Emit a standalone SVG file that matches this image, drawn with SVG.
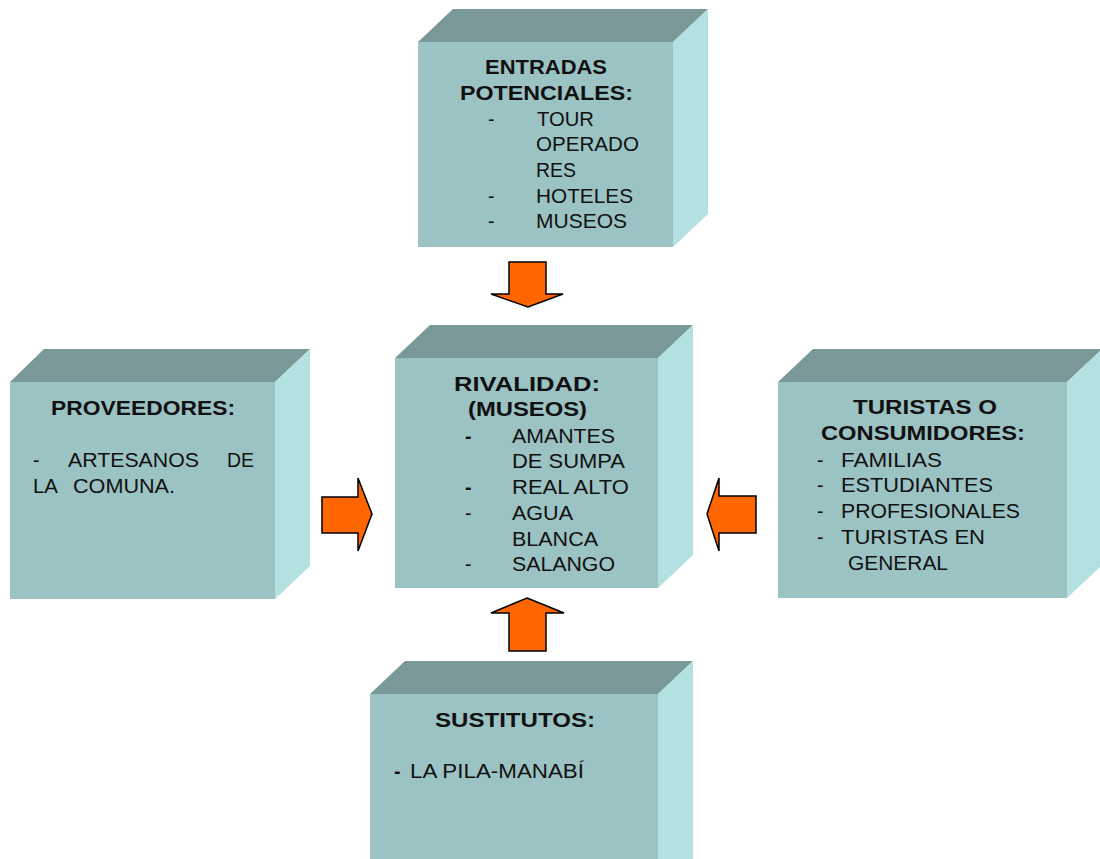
<svg xmlns="http://www.w3.org/2000/svg" width="1100" height="859" viewBox="0 0 1100 859">
<style>
.front{fill:#9cc3c3;}
.top{fill:#7a9897;}
.side{fill:#b3e0e1;}
text{font-family:"Liberation Sans",Arial,sans-serif;font-size:19.5px;fill:#111;}
.b{font-weight:bold;}
.arrow{fill:#ff6600;stroke:#000;stroke-width:1.5;stroke-linejoin:miter;}
</style>
<rect width="1100" height="859" fill="#fff"/>

<g id="entradas">
<polygon class="top" points="418,42 453,9 708,9 673,42"/>
<polygon class="side" points="673,42 708,9 708,214 673,247"/>
<rect class="front" x="418" y="42" width="255" height="205"/>
<text class="b" x="485" y="74" textLength="122" lengthAdjust="spacingAndGlyphs">ENTRADAS</text>
<text class="b" x="460" y="100" textLength="173" lengthAdjust="spacingAndGlyphs">POTENCIALES:</text>
<text x="488" y="126">-</text>
<text x="537" y="126" textLength="57" lengthAdjust="spacingAndGlyphs">TOUR</text>
<text x="536" y="151" textLength="103" lengthAdjust="spacingAndGlyphs">OPERADO</text>
<text x="536" y="177" textLength="40" lengthAdjust="spacingAndGlyphs">RES</text>
<text x="488" y="203">-</text>
<text x="536" y="203" textLength="97" lengthAdjust="spacingAndGlyphs">HOTELES</text>
<text x="488" y="228">-</text>
<text x="536" y="228" textLength="91" lengthAdjust="spacingAndGlyphs">MUSEOS</text>
</g>

<g id="rivalidad">
<polygon class="top" points="395,358 430,325 693,325 658,358"/>
<polygon class="side" points="658,358 693,325 693,555 658,588"/>
<rect class="front" x="395" y="358" width="263" height="230"/>
<text class="b" x="454" y="391" textLength="146" lengthAdjust="spacingAndGlyphs">RIVALIDAD:</text>
<text class="b" x="468" y="416" textLength="119" lengthAdjust="spacingAndGlyphs">(MUSEOS)</text>
<text class="b" x="465" y="443">-</text>
<text x="512" y="443" textLength="103" lengthAdjust="spacingAndGlyphs">AMANTES</text>
<text x="512" y="468" textLength="113" lengthAdjust="spacingAndGlyphs">DE SUMPA</text>
<text class="b" x="465" y="494">-</text>
<text x="512" y="494" textLength="117" lengthAdjust="spacingAndGlyphs">REAL ALTO</text>
<text x="465" y="520">-</text>
<text x="512" y="520" textLength="61" lengthAdjust="spacingAndGlyphs">AGUA</text>
<text x="512" y="546" textLength="86" lengthAdjust="spacingAndGlyphs">BLANCA</text>
<text x="465" y="571">-</text>
<text x="512" y="571" textLength="103" lengthAdjust="spacingAndGlyphs">SALANGO</text>
</g>

<g id="proveedores">
<polygon class="top" points="10,382 44,349 310,349 275,382"/>
<polygon class="side" points="275,382 310,349 310,566 275,599"/>
<rect class="front" x="10" y="382" width="265" height="217"/>
<text class="b" x="51" y="415" textLength="184" lengthAdjust="spacingAndGlyphs">PROVEEDORES:</text>
<text x="33" y="467">-</text>
<text x="68" y="467" textLength="131" lengthAdjust="spacingAndGlyphs">ARTESANOS</text>
<text x="227" y="467" textLength="27" lengthAdjust="spacingAndGlyphs">DE</text>
<text x="33" y="493" textLength="25" lengthAdjust="spacingAndGlyphs">LA</text>
<text x="73" y="493" textLength="102" lengthAdjust="spacingAndGlyphs">COMUNA.</text>
</g>

<g id="turistas">
<polygon class="top" points="778,382 813,349 1102,349 1067,382"/>
<polygon class="side" points="1067,382 1102,349 1102,565 1067,598"/>
<rect class="front" x="778" y="382" width="289" height="216"/>
<text class="b" x="853" y="414" textLength="144" lengthAdjust="spacingAndGlyphs">TURISTAS O</text>
<text class="b" x="821" y="440" textLength="204" lengthAdjust="spacingAndGlyphs">CONSUMIDORES:</text>
<text x="817" y="467">-</text>
<text x="841" y="467" textLength="101" lengthAdjust="spacingAndGlyphs">FAMILIAS</text>
<text x="817" y="492">-</text>
<text x="841" y="492" textLength="152" lengthAdjust="spacingAndGlyphs">ESTUDIANTES</text>
<text x="817" y="518">-</text>
<text x="841" y="518" textLength="179" lengthAdjust="spacingAndGlyphs">PROFESIONALES</text>
<text x="817" y="544">-</text>
<text x="841" y="544" textLength="144" lengthAdjust="spacingAndGlyphs">TURISTAS EN</text>
<text x="848" y="570" textLength="100" lengthAdjust="spacingAndGlyphs">GENERAL</text>
</g>

<g id="sustitutos">
<polygon class="top" points="370,694 405,661 693,661 658,694"/>
<polygon class="side" points="658,694 693,661 693,870 658,870"/>
<rect class="front" x="370" y="694" width="288" height="170"/>
<text class="b" x="435" y="727" textLength="160" lengthAdjust="spacingAndGlyphs">SUSTITUTOS:</text>
<text class="b" x="394" y="778">-</text>
<text x="410" y="778" textLength="174" lengthAdjust="spacingAndGlyphs">LA PILA-MANABÍ</text>
</g>

<g id="connectors">
<polygon class="arrow" points="509,262 546,262 546,294 563,294 528,307 491,294 509,294"/>
<polygon class="arrow" points="527,598 564,613 546,613 546,651 509,651 509,613 491,613"/>
<polygon class="arrow" points="322,497 358,497 358,478 372,514 358,551 358,533 322,533"/>
<polygon class="arrow" points="756,496 719,496 719,478 707,514 719,551 719,533 756,533"/>
</g>
</svg>
